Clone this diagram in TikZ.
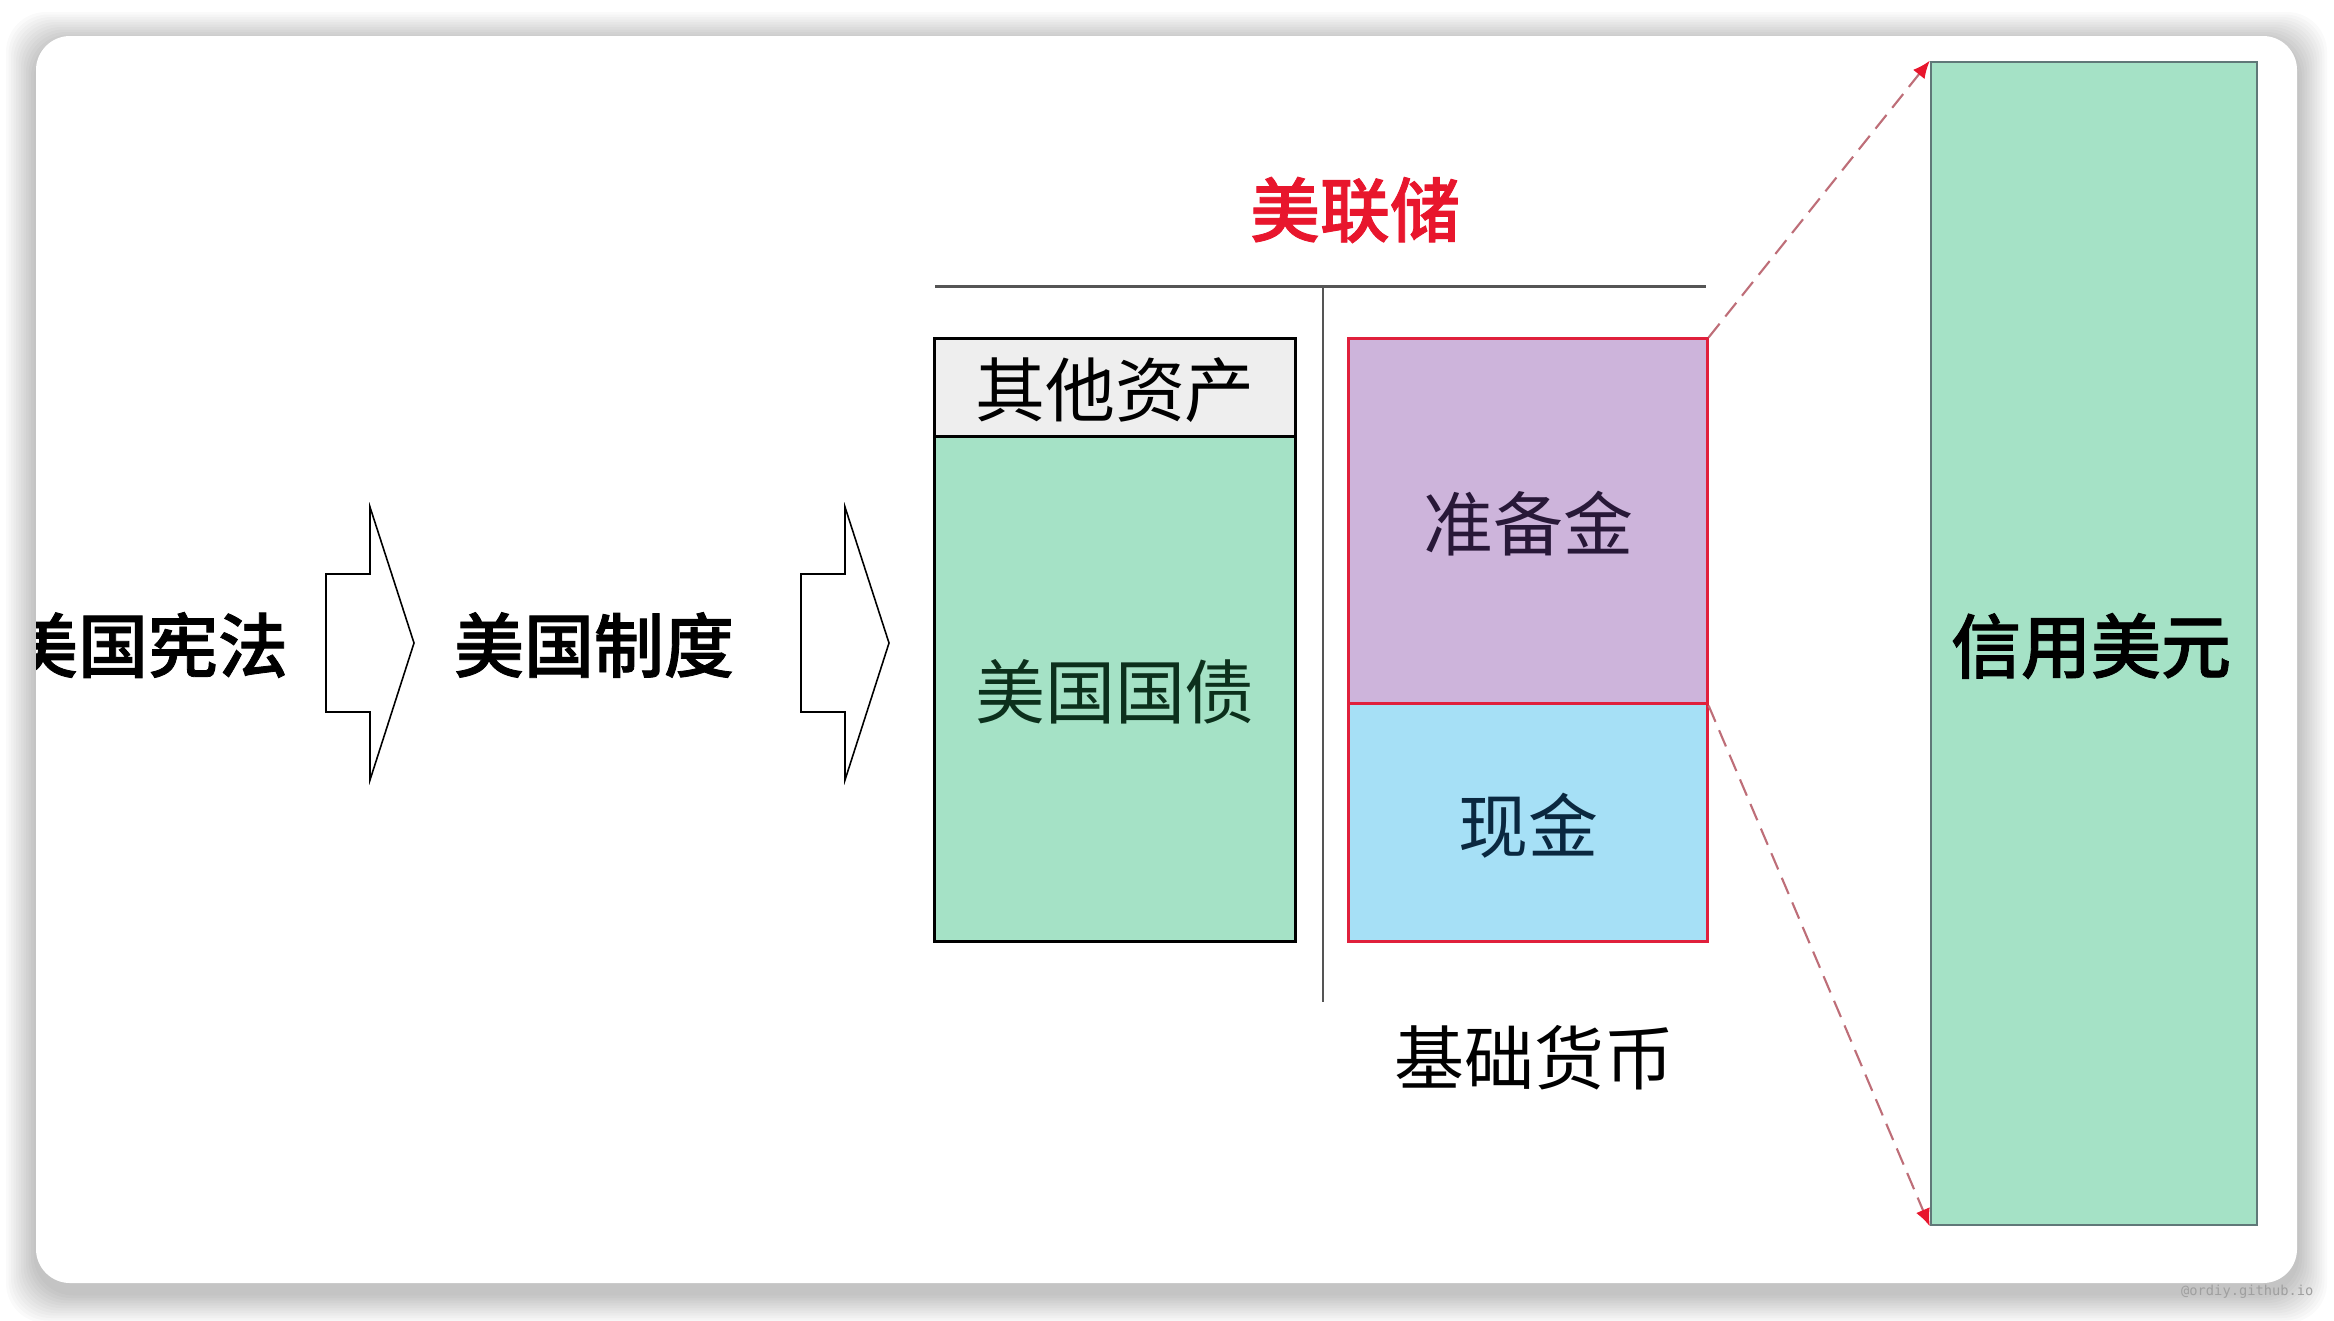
\documentclass[tikz,border=0pt]{standalone}
\usepackage{fontspec}
\setmainfont{Noto Sans CJK SC}
\newfontfamily\medfont{Noto Sans CJK SC Medium}[BoldFont={Noto Sans CJK SC Medium},BoldFeatures={FakeBold=1.2}]
\newfontfamily\wmfont{DejaVu Sans Mono}
\usetikzlibrary{arrows.meta}
\definecolor{mint}{RGB}{165,226,198}
\definecolor{lilac}{RGB}{205,180,219}
\definecolor{sky}{RGB}{166,224,246}
\definecolor{othgray}{RGB}{238,238,238}
\definecolor{fedred}{RGB}{232,22,45}
\definecolor{boxred}{RGB}{224,32,60}
\definecolor{dashcol}{RGB}{190,110,120}
\definecolor{usdedge}{RGB}{96,120,120}
\definecolor{linegray}{RGB}{85,85,85}
\begin{document}
\begin{tikzpicture}[x=0.01cm,y=-0.01cm,
  lbl/.style={font=\fontsize{19.9pt}{24pt}\selectfont, inner sep=0pt},
  blbl/.style={font=\medfont\bfseries\fontsize{19.9pt}{24pt}\selectfont, inner sep=0pt},
  box/.style={draw, line width=0.85pt, inner sep=0pt, anchor=center},
  blockarrow/.style={draw=black, line width=0.45pt, fill=white, line join=miter},
  zoomline/.style={draw=dashcol, line width=0.6pt, dash pattern=on 5pt off 2.6pt,
     -{Latex[length=5pt,width=4.2pt,color=fedred]}},
  tline/.style={draw=linegray}
]
\useasboundingbox (0,0) rectangle (2334,1320);
\fill[white] (0,0) rectangle (2334,1320);
% card shadow
\foreach \i in {1,...,12}{
  \fill[black, opacity=0.018, rounded corners=0.4cm]
    (36-2.5*\i,36-2.5*\i+6) rectangle (2297+2.5*\i,1283+2.5*\i+10);
}
% card
\fill[white, rounded corners=0.34cm] (36,36) rectangle (2297,1283);
\begin{scope}
  \clip[rounded corners=0.34cm] (36,36) rectangle (2297,1283);
  \node[blbl] (law) at (148,645) {美国宪法};
\end{scope}
% block arrows
\draw[blockarrow] (326,574) -- (370,574) -- (370,507) -- (414,643) -- (370,780) -- (370,712) -- (326,712) -- cycle;
\draw[blockarrow] (801,574) -- (845,574) -- (845,507) -- (889,643) -- (845,780) -- (845,712) -- (801,712) -- cycle;
\node[blbl] (sys) at (594,645) {美国制度};
% Fed title and T lines
\node[blbl, text=fedred] (fed) at (1355,210) {美联储};
\coordinate (hl) at (935,286);
\coordinate (hr) at (1706,286);
\coordinate (vt) at (1323,286);
\coordinate (vb) at (1323,1002);
\draw[tline, line width=0.85pt] (hl) -- (hr);
\draw[tline, line width=0.6pt] (vt) -- (vb);
% assets
\node[box, fill=othgray, minimum width=3.6cm, minimum height=0.98cm] (oth) at (1115,388) {};
\node[lbl] (othtxt) at (1115,390) {其他资产};
\node[box, fill=mint, minimum width=3.6cm, minimum height=5.04cm] (bond) at (1115,689) {};
\node[lbl, text={rgb,255:red,12;green,48;blue,28}] (bondtxt) at (1115,692) {美国国债};
% liabilities
\node[box, draw=boxred, fill=lilac, minimum width=3.58cm, minimum height=3.65cm] (res) at (1528,521.5) {};
\node[lbl, text={rgb,255:red,40;green,24;blue,56}] (restxt) at (1528,524) {准备金};
\node[box, draw=boxred, fill=sky, minimum width=3.58cm, minimum height=2.37cm] (cash) at (1528,822.5) {};
\node[lbl, text={rgb,255:red,10;green,40;blue,64}] (cashtxt) at (1528,826) {现金};
\node[lbl] (base) at (1534,1058) {基础货币};
% credit dollar
\node[box, draw=usdedge, line width=0.6pt, fill=mint, minimum width=3.26cm, minimum height=11.63cm] (usd) at (2094,643.5) {};
\node[blbl] (usdtxt) at (2091,646) {信用美元};
% zoom connectors
\draw[zoomline] (res.north east) -- (usd.north west);
\draw[zoomline] (res.south east) -- (usd.south west);
% watermark
\node[font=\wmfont\fontsize{3.9pt}{4.5pt}\selectfont, text=gray!75, anchor=east, inner sep=0pt] (wm) at (2314,1292) {@ordiy.github.io};
\end{tikzpicture}
\end{document}
